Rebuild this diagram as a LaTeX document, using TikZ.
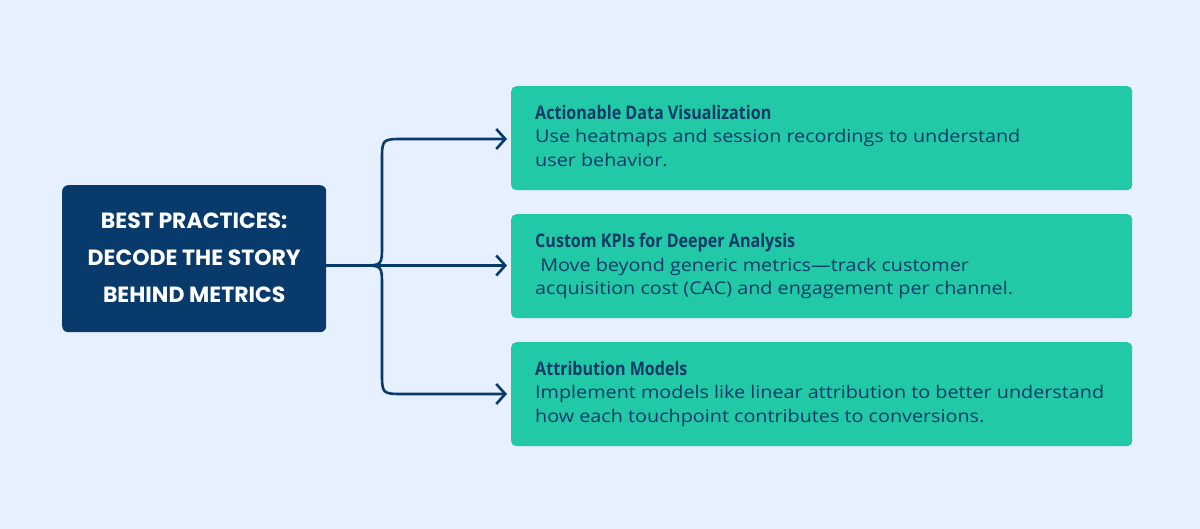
\documentclass[tikz,border=0pt]{standalone}
\usepackage{fontspec}
\setmainfont{Open Sans}[FakeStretch=1.13]
\newfontfamily\titlefont{Open Sans}[FakeStretch=0.86]
\newfontfamily\hubfont{Poppins}
\usetikzlibrary{arrows.meta,calc}
\definecolor{bgc}{HTML}{E7F0FE}
\definecolor{navy}{HTML}{083A6B}
\definecolor{teal}{HTML}{22C9A7}
\definecolor{txt}{HTML}{0F3A68}
\tikzset{
  gbox/.style={fill=teal, rounded corners=5pt, minimum width=621pt, minimum height=104pt, anchor=north west, inner sep=0pt},
  hubbox/.style={fill=navy, rounded corners=6pt, minimum width=264pt, minimum height=147pt, anchor=north west, inner sep=0pt},
  btext/.style={anchor=north west, align=left, inner sep=0pt, text=txt, font=\fontsize{17.5pt}{23.5pt}\selectfont},
  conn/.style={draw=navy, line width=2.6pt},
  arr/.style={conn, -{Straight Barb[length=9pt,width=20pt,line width=2.6pt]}, shorten >=4pt},
}
\newcommand{\ttl}[1]{{\titlefont\bfseries\fontsize{18.7pt}{23.5pt}\selectfont #1}}
\begin{document}
\begin{tikzpicture}[x=1pt,y=-1pt]
\fill[bgc] (0,0) rectangle (1200,529);
\useasboundingbox (0,0) rectangle (1200,529);
\node[hubbox] (hub) at (62,185) {};
\node[align=center, text=white, font=\hubfont\bfseries\fontsize{22pt}{37pt}\selectfont] (hubt) at ([yshift=1pt]hub.center) {BEST PRACTICES:\\DECODE THE STORY\\BEHIND METRICS};
\node[gbox] (b1) at (511,86) {};
\node[gbox] (b2) at (511,214) {};
\node[gbox] (b3) at (511,342) {};
\node[btext] (t1) at (535,105) {\ttl{Actionable Data Visualization}\\Use heatmaps and session recordings to understand\\user behavior.};
\node[btext] (t2) at (535,233) {\ttl{Custom KPIs for Deeper Analysis}\\\ Move beyond generic metrics—track customer\\acquisition cost (CAC) and engagement per channel.};
\node[btext] (t3) at (535,361) {\ttl{Attribution Models}\\Implement models like linear attribution to better understand\\how each touchpoint contributes to conversions.};
\coordinate (j) at (362,265.5);
\draw[conn] (hub.east |- j) -- (j);
\draw[arr] (j) .. controls (382,265.5) .. (382,245) -- (382,161) .. controls (382,139) .. (404,139) -- (b1.west |- 0,139);
\draw[arr] (j) -- (b2.west |- j);
\draw[arr] (j) .. controls (382,265.5) .. (382,286) -- (382,372) .. controls (382,394) .. (404,394) -- (b3.west |- 0,394);
\end{tikzpicture}
\end{document}
